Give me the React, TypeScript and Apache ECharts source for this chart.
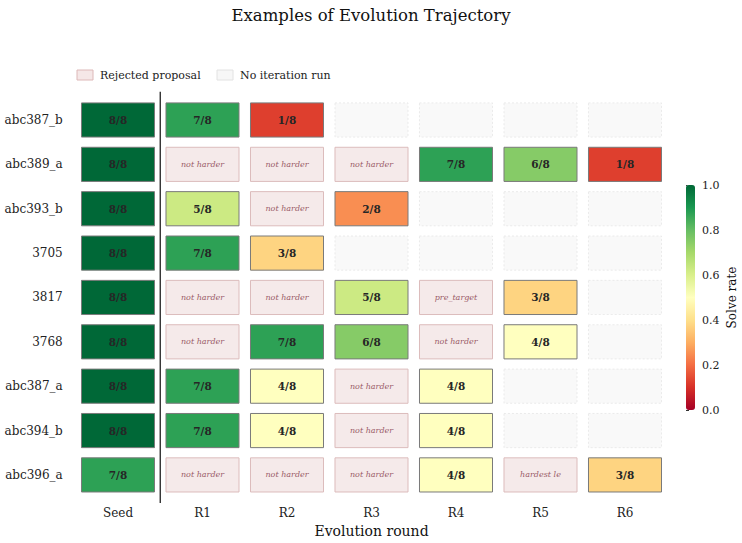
import React, { useEffect, useRef } from "react";
import * as echarts from "echarts";

// Round columns and problem rows
const rounds = ["Seed", "R1", "R2", "R3", "R4", "R5", "R6"];
const problems = [
  "abc387_b",
  "abc389_a",
  "abc393_b",
  "3705",
  "3817",
  "3768",
  "abc387_a",
  "abc394_b",
  "abc396_a",
];

// Each row: "k/n" = solved k of n, other text = rejected proposal reason, "" = no iteration run
const row_abc387_b = ["8/8", "7/8", "1/8", "", "", "", ""];
const row_abc389_a = ["8/8", "not harder", "not harder", "not harder", "7/8", "6/8", "1/8"];
const row_abc393_b = ["8/8", "5/8", "not harder", "2/8", "", "", ""];
const row_3705 = ["8/8", "7/8", "3/8", "", "", "", ""];
const row_3817 = ["8/8", "not harder", "not harder", "5/8", "pre_target", "3/8", ""];
const row_3768 = ["8/8", "not harder", "7/8", "6/8", "not harder", "4/8", ""];
const row_abc387_a = ["8/8", "7/8", "4/8", "not harder", "4/8", "", ""];
const row_abc394_b = ["8/8", "7/8", "4/8", "not harder", "4/8", "", ""];
const row_abc396_a = ["7/8", "not harder", "not harder", "not harder", "4/8", "hardest le", "3/8"];

const rows = [
  row_abc387_b,
  row_abc389_a,
  row_abc393_b,
  row_3705,
  row_3817,
  row_3768,
  row_abc387_a,
  row_abc394_b,
  row_abc396_a,
];

// RdYlGn ramp for the solve rate
const rdYlGn = [
  "#a50026", "#d73027", "#f46d43", "#fdae61", "#fee08b", "#ffffbf",
  "#d9ef8b", "#a6d96a", "#66bd63", "#1a9850", "#006837",
];

const FONT = '"DejaVu Serif", serif';
const CELL_W = 0.864;
const CELL_H = 0.77;

export default function App() {
  const ref = useRef<HTMLDivElement>(null);

  useEffect(() => {
    if (!ref.current) return;
    document.body.style.margin = "0";
    const chart = echarts.init(ref.current, null, { renderer: "svg" });

    const solved: any[] = [];
    const solvedText: string[] = [];
    const rejected: any[] = [];
    const rejectedText: string[] = [];
    const empty: any[] = [];
    rows.forEach((r, i) => {
      r.forEach((cell, j) => {
        const m = /^(\d+)\/(\d+)$/.exec(cell);
        if (m) {
          solved.push([j, i, Number(m[1]) / Number(m[2])]);
          solvedText.push(cell);
        } else if (cell) {
          rejected.push([j, i]);
          rejectedText.push(cell);
        } else {
          empty.push([j, i]);
        }
      });
    });

    const cellRect = (api: any) => {
      const c = api.coord([api.value(0), api.value(1)]);
      const s = api.size([1, 1]);
      const w = s[0] * CELL_W;
      const h = s[1] * CELL_H;
      return { c, shape: { x: c[0] - w / 2, y: c[1] - h / 2, width: w, height: h } };
    };

    chart.setOption({
      animation: false,
      backgroundColor: "#ffffff",
      title: {
        text: "Examples of Evolution Trajectory",
        left: "center",
        top: 2,
        textStyle: { fontFamily: FONT, fontSize: 16.5, fontWeight: "normal", color: "#111" },
      },
      grid: [
        { left: 75.75, right: 74.75, top: 97.8, bottom: 45.8 },
        { left: 686, width: 9, top: 185, height: 225 },
      ],
      xAxis: [
        {
          type: "category",
          data: rounds,
          gridIndex: 0,
          axisLine: { show: false },
          axisTick: { show: false },
          axisLabel: { fontFamily: FONT, fontSize: 12, color: "#222", margin: 10 },
          name: "Evolution round",
          nameLocation: "middle",
          nameGap: 26,
          nameTextStyle: { fontFamily: FONT, fontSize: 14, color: "#111" },
          splitLine: { show: false },
        },
        { type: "value", gridIndex: 1, show: false, min: 0, max: 1 },
      ],
      yAxis: [
        {
          type: "category",
          data: problems,
          inverse: true,
          gridIndex: 0,
          axisLine: { show: false },
          axisTick: { show: false },
          axisLabel: { fontFamily: FONT, fontSize: 12, color: "#222", margin: 13 },
          splitLine: { show: false },
        },
        {
          type: "value",
          gridIndex: 1,
          position: "right",
          min: 0,
          max: 1,
          interval: 0.2,
          axisLine: { show: false },
          axisTick: { show: true, length: 3, lineStyle: { color: "#333" } },
          axisLabel: {
            fontFamily: FONT,
            fontSize: 11,
            color: "#222",
            margin: 7,
            formatter: (v: number) => v.toFixed(1),
          },
          splitLine: { show: false },
          name: "Solve rate",
          nameLocation: "middle",
          nameRotate: 90,
          nameGap: 31,
          nameTextStyle: { fontFamily: FONT, fontSize: 12, color: "#111" },
        },
      ],
      visualMap: {
        type: "continuous",
        min: 0,
        max: 1,
        dimension: 2,
        seriesIndex: 0,
        inRange: { color: rdYlGn },
        calculable: false,
        orient: "vertical",
        left: 686,
        top: 185,
        itemWidth: 9,
        itemHeight: 225,
        padding: 0,
        text: ["", ""],
        showLabel: false,
      },
      graphic: [
        {
          type: "rect",
          shape: { x: 77, y: 70, width: 16, height: 10 },
          style: { fill: "#f5e7e7", stroke: "#ddb8b8", lineWidth: 1 },
        },
        {
          type: "text",
          style: {
            text: "Rejected proposal",
            x: 100,
            y: 75,
            verticalAlign: "middle",
            font: `11px ${FONT}`,
            fill: "#222",
          },
        },
        {
          type: "rect",
          shape: { x: 217, y: 70, width: 16, height: 10 },
          style: { fill: "#f7f7f7", stroke: "#e2e2e2", lineWidth: 1 },
        },
        {
          type: "text",
          style: {
            text: "No iteration run",
            x: 240,
            y: 75,
            verticalAlign: "middle",
            font: `11px ${FONT}`,
            fill: "#222",
          },
        },
      ],
      series: [
        {
          type: "custom",
          name: "Solved",
          data: solved,
          xAxisIndex: 0,
          yAxisIndex: 0,
          renderItem: (params: any, api: any) => {
            const { c, shape } = cellRect(api);
            return {
              type: "group",
              children: [
                {
                  type: "rect",
                  shape,
                  style: { fill: api.visual("color"), stroke: "#7a7a7a", lineWidth: 1 },
                },
                {
                  type: "text",
                  style: {
                    text: solvedText[params.dataIndex],
                    x: c[0],
                    y: c[1],
                    align: "center",
                    verticalAlign: "middle",
                    font: `bold 10.5px ${FONT}`,
                    fill: "#262626",
                  },
                },
              ],
            };
          },
        },
        {
          type: "custom",
          name: "Rejected proposal",
          data: rejected,
          xAxisIndex: 0,
          yAxisIndex: 0,
          renderItem: (params: any, api: any) => {
            const { c, shape } = cellRect(api);
            return {
              type: "group",
              children: [
                {
                  type: "rect",
                  shape,
                  style: { fill: "#f5eaea", stroke: "#dcbcbc", lineWidth: 1 },
                },
                {
                  type: "text",
                  style: {
                    text: rejectedText[params.dataIndex],
                    x: c[0],
                    y: c[1],
                    align: "center",
                    verticalAlign: "middle",
                    font: `italic 8px ${FONT}`,
                    fill: "#9a5a68",
                  },
                },
              ],
            };
          },
        },
        {
          type: "custom",
          name: "No iteration run",
          data: empty,
          xAxisIndex: 0,
          yAxisIndex: 0,
          renderItem: (_params: any, api: any) => {
            const { shape } = cellRect(api);
            return {
              type: "rect",
              shape,
              style: {
                fill: "#f9f9f9",
                stroke: "#e6e6e6",
                lineWidth: 0.8,
                lineDash: [2, 2],
              },
            };
          },
        },
        {
          // Divider between the seed column and the evolution rounds
          type: "custom",
          name: "divider",
          data: [[0, 0]],
          xAxisIndex: 0,
          yAxisIndex: 0,
          silent: true,
          renderItem: (_params: any, api: any) => {
            const first = api.coord([0, 0]);
            const last = api.coord([0, problems.length - 1]);
            const s = api.size([1, 1]);
            const x = first[0] + s[0] / 2;
            return {
              type: "line",
              shape: { x1: x, y1: first[1] - s[1] / 2 - 6, x2: x, y2: last[1] + s[1] / 2 + 6 },
              style: { stroke: "#222", lineWidth: 1.3 },
            };
          },
        },
      ],
    });

    return () => chart.dispose();
  }, []);

  return <div ref={ref} style={{ width: 742, height: 543 }} />;
}
